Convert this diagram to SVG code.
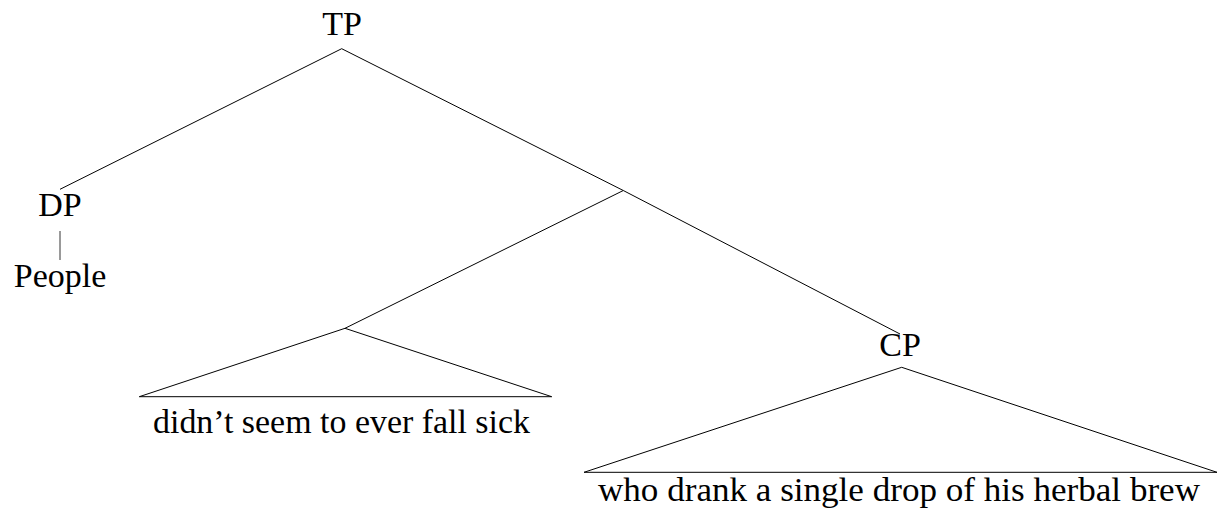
<svg xmlns="http://www.w3.org/2000/svg" width="1223" height="510" viewBox="0 0 1223 510">
<style>
text{font-family:"Liberation Serif","Times New Roman",serif;font-size:34px;fill:#000;text-anchor:middle}
.e{stroke:#000;stroke-width:1;fill:none}
</style>
<rect width="1223" height="510" fill="#fff"/>
<g id="connectors">
<line class="e" x1="341.7" y1="48.7" x2="60" y2="189.3"/>
<line class="e" x1="341.7" y1="48.7" x2="623.3" y2="190.5"/>
<line class="e" x1="623.3" y1="190.5" x2="900" y2="334"/>
<line class="e" x1="623.3" y1="190.5" x2="345" y2="328.3"/>
<line x1="60" y1="231" x2="60" y2="260" stroke="#000" stroke-width="0.8"/>
</g>
<g id="TP"><text x="342" y="35">TP</text></g>
<g id="DP"><text x="60" y="215.7">DP</text></g>
<g id="People"><text x="60" y="287">People</text></g>
<g id="VP">
<polygon class="e" points="345,328.3 139.3,396.7 551.7,396.7"/>
<text x="341.5" y="433" textLength="377" lengthAdjust="spacingAndGlyphs">didn’t seem to ever fall sick</text>
</g>
<g id="CP">
<text x="900" y="356">CP</text>
<polygon class="e" points="901.7,367.3 584,472.3 1217,472.3"/>
<text x="899" y="501" textLength="602" lengthAdjust="spacingAndGlyphs">who drank a single drop of his herbal brew</text>
</g>
</svg>
